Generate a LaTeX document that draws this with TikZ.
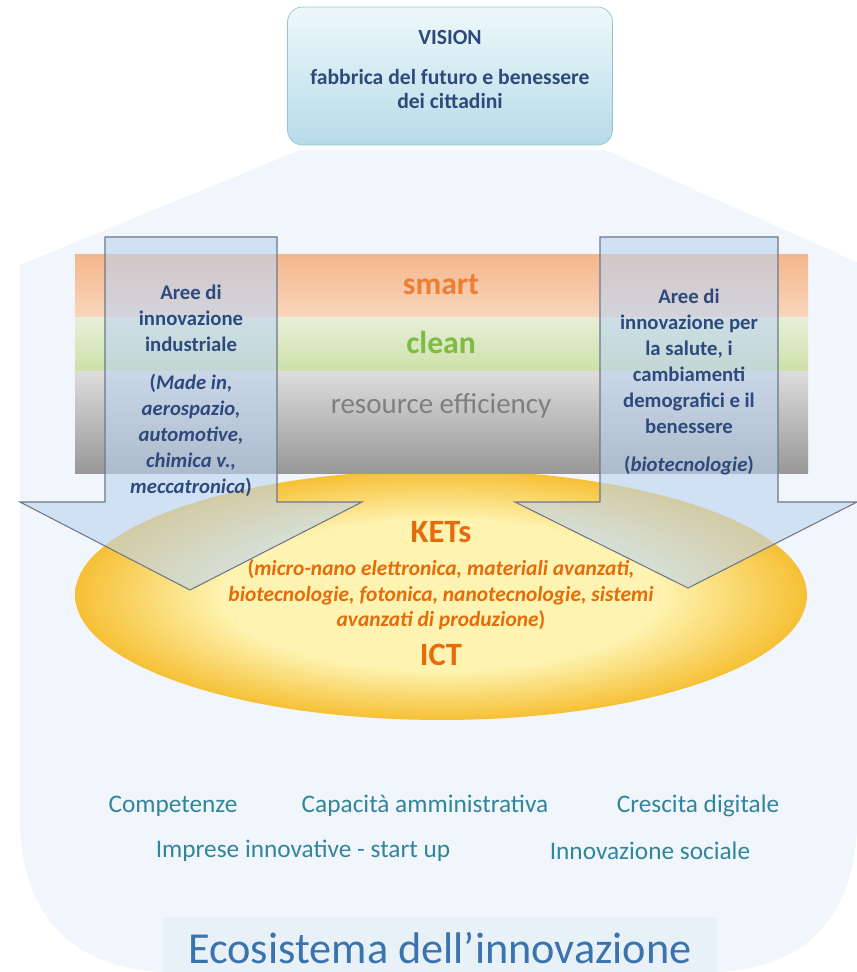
\documentclass[tikz,border=0pt]{standalone}
\usepackage{fontspec}
\setmainfont{Carlito}
\usetikzlibrary{shapes.geometric}
\definecolor{ecofill}{HTML}{F0F6FB}
\definecolor{titlefill}{HTML}{E8F1F8}
\definecolor{visiontop}{HTML}{EEF8FB}
\definecolor{visionbot}{HTML}{B6DBE8}
\definecolor{visionline}{HTML}{96C4D6}
\definecolor{darkblue}{HTML}{2E4A7D}
\definecolor{smarttop}{HTML}{F4B78C}
\definecolor{smartbot}{HTML}{F9D6BE}
\definecolor{cleantop}{HTML}{E7EFD8}
\definecolor{cleanbot}{HTML}{CCE0A8}
\definecolor{restop}{HTML}{DCDCDC}
\definecolor{resbot}{HTML}{989898}
\definecolor{smartcol}{HTML}{EE7E32}
\definecolor{cleancol}{HTML}{7DBB42}
\definecolor{rescol}{HTML}{7F7F7F}
\definecolor{ketcol}{HTML}{E46C0A}
\definecolor{ketin}{HTML}{FEF3B0}
\definecolor{ketout}{HTML}{F6C035}
\definecolor{arrowfill}{HTML}{BCD3F0}
\definecolor{arrowline}{HTML}{6E7686}
\definecolor{tealcol}{HTML}{31859C}
\definecolor{ecocol}{HTML}{3B73AF}
\pgfdeclareradialshading{ketglow}{\pgfpoint{0bp}{0bp}}{color(0bp)=(ketin); color(15bp)=(ketin); color(25bp)=(ketout); color(50bp)=(ketout)}
\newcommand{\areaarrow}[6]{\filldraw[arrowbox] (#1,237) -- (#2,237) -- (#2,502) -- (#4,502) -- (#5,#6) -- (#3,502) -- (#1,502) -- cycle;}

\begin{document}
\begin{tikzpicture}[
        x=0.02cm, y=-0.02cm,
        every node/.style={inner sep=0pt},
        visionbox/.style={rectangle,rounded corners=3mm,draw=visionline,
                          top color=visiontop,bottom color=visionbot,
                          minimum width=6.5cm,minimum height=2.76cm},
        visiontext/.style={text=darkblue,font=\fontsize{12.3}{14.2}\selectfont\bfseries,align=center},
        bandtext/.style={font=\fontsize{16.5}{18}\selectfont},
        arrowbox/.style={draw=arrowline,fill=arrowfill,fill opacity=0.6,line width=0.6pt},
        areatext/.style={text=darkblue,font=\fontsize{11.8}{14.8}\selectfont\bfseries,align=center},
        kettext/.style={text=ketcol,font=\fontsize{18.5}{20}\selectfont\bfseries},
        ketlist/.style={text=ketcol,font=\fontsize{12.2}{14.5}\selectfont\bfseries,align=center},
        ecoitem/.style={text=tealcol,font=\fontsize{14.4}{16}\selectfont}
      ]
      \useasboundingbox (0,0) rectangle (857,972);
      \fill[ecofill] (20,265) -- (300,150) -- (605,150) -- (857,262) -- (857,820)
        .. controls (857,920) and (800,972) .. (710,972) -- (170,972)
        .. controls (80,972) and (20,920) .. (20,820) -- cycle;
      \fill[titlefill] (163,918) rectangle (717,972);

      \node (vision) [visionbox] at (450,76) {};
      \node (visiontitle) [visiontext] at (450,37) {VISION};
      \node (visionsub) [visiontext] at (450,89) {fabbrica del futuro e benessere\\dei cittadini};

      \node (ketsarea) [ellipse,shading=ketglow,minimum width=14.64cm,minimum height=5cm] at (441,595) {};

      \fill[top color=smarttop,bottom color=smartbot] (75,255) rectangle (808,318);
      \fill[top color=cleantop,bottom color=cleanbot] (75,318) rectangle (808,372);
      \fill[top color=restop,bottom color=resbot] (75,372) rectangle (808,473);
      \node (smart) [text=smartcol,font=\fontsize{18}{20}\selectfont\bfseries] at (441,285) {smart};
      \node (clean) [text=cleancol,font=\fontsize{18}{20}\selectfont\bfseries] at (441,343) {clean};
      \node (resource) [bandtext,text=rescol] at (441,406) {resource efficiency};

      \areaarrow{105}{277}{20}{362}{190}{590}
      \areaarrow{600}{778}{515}{857}{688}{588}
      \node (industry) [areatext] at (191,391) {Aree di\\innovazione\\industriale\\[7pt]
        (\textit{Made in,}\\\textit{aerospazio,}\\\textit{automotive,}\\\textit{chimica v.,}\\\textit{meccatronica})};
      \node (health) [areatext] at (689,382) {Aree di\\innovazione per\\la salute, i\\cambiamenti\\demografici e il\\benessere\\[7pt]
        (\textit{biotecnologie})};

      \node (kets) [kettext] at (441,532) {KETs};
      \node (ketitems) [ketlist] at (441,595) {(\textit{micro-nano elettronica, materiali avanzati,}\\
        \textit{biotecnologie, fotonica, nanotecnologie, sistemi}\\\textit{avanzati di produzione})};
      \node (ict) [kettext] at (441,655) {ICT};

      \node (skills) [ecoitem] at (173,806) {Competenze};
      \node (admin) [ecoitem] at (425,806) {Capacità amministrativa};
      \node (digital) [ecoitem] at (698,806) {Crescita digitale};
      \node (startup) [ecoitem] at (303,851) {Imprese innovative - start up};
      \node (social) [ecoitem] at (650,851) {Innovazione sociale};
      \node (eco) [text=ecocol,font=\fontsize{25.2}{28}\selectfont] at (440,948) {Ecosistema dell’innovazione};
    \end{tikzpicture}
\end{document}
